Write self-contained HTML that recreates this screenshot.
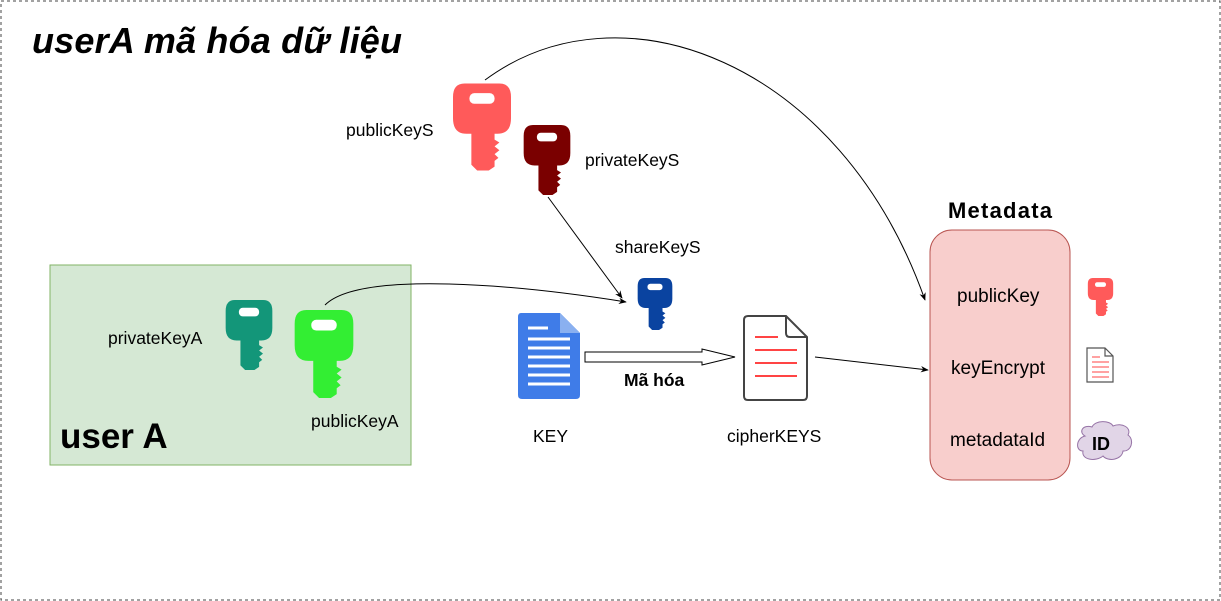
<!DOCTYPE html>
<html><head><meta charset="utf-8"><style>
body{margin:0;background:#fff;}
svg{display:block;font-family:"Liberation Sans",Arial,sans-serif;}
</style></head><body>
<svg width="1221" height="601" viewBox="0 0 1221 601">
<defs>
<symbol id="key" viewBox="0 0 60 90">
<path d="M12 0 H48 Q60 0 60 14 V36 Q60 52 46 52 H14 Q0 52 0 36 V14 Q0 0 12 0 Z M19 50 L43 50 L43 58 L48 61 L43 65 L48 69 L43 73 L47 77 L43 80 L43 86 L37 90 L25 90 L19 84 Z"/>
<rect x="17" y="10" width="26" height="11" rx="5" fill="#fff"/>
</symbol>
<symbol id="doc" viewBox="0 0 62 86">
<path d="M3 0 H42 L62 20 V82 Q62 86 58 86 H4 Q0 86 0 82 V4 Q0 0 3 0Z"/>
</symbol>
<marker id="ah" viewBox="0 0 10 10" refX="9" refY="5" markerWidth="8" markerHeight="8" orient="auto"><path d="M0 1 L10 5 L0 9 L3 5Z" fill="#000"/></marker>
</defs>
<rect x="1" y="1" width="1219" height="599" fill="#fff" stroke="#444" stroke-dasharray="3,3"/>
<text x="32" y="53" font-size="36" font-weight="bold" font-style="italic" textLength="370">userA mã hóa dữ liệu</text>

<rect x="50" y="265" width="361" height="200" fill="#D5E8D4" stroke="#82B366"/>
<text x="60" y="448" font-size="35" font-weight="bold">user A</text>
<use href="#key" x="224" y="300" width="50" height="70" fill="#139679"/>
<use href="#key" x="293" y="310" width="62" height="88" fill="#33EE33"/>
<text x="108" y="344" font-size="17.5">privateKeyA</text>
<text x="311" y="427" font-size="17.5">publicKeyA</text>

<use href="#key" x="453" y="82" width="58" height="90" fill="#FF5A5A"/>
<use href="#key" x="523" y="125" width="48" height="70" fill="#7A0000"/>
<text x="346" y="136" font-size="17.5">publicKeyS</text>
<text x="585" y="166" font-size="17.5">privateKeyS</text>
<use href="#key" x="636" y="278" width="38" height="52" fill="#0A43A0"/>
<text x="615" y="253" font-size="17.5">shareKeyS</text>

<path d="M485 80 C620 -20 840 60 925 300" fill="none" stroke="#000" marker-end="url(#ah)"/>
<path d="M325 305 C360 270 520 285 626 302" fill="none" stroke="#000" marker-end="url(#ah)"/>
<path d="M548 197 L622 298" fill="none" stroke="#000" marker-end="url(#ah)"/>
<path d="M815 357 L928 370" fill="none" stroke="#000" marker-end="url(#ah)"/>

<use href="#doc" x="518" y="313" width="62" height="86" fill="#3F7CE8"/>
<path d="M560 313 L580 333 H560Z" fill="#8AB0F0"/>
<g stroke="#fff" stroke-width="3"><line x1="528" y1="328" x2="548" y2="328"/><line x1="528" y1="339" x2="570" y2="339"/><line x1="528" y1="348" x2="570" y2="348"/><line x1="528" y1="357" x2="570" y2="357"/><line x1="528" y1="366" x2="570" y2="366"/><line x1="528" y1="375" x2="570" y2="375"/><line x1="528" y1="384" x2="570" y2="384"/></g>
<text x="533" y="442" font-size="17.5">KEY</text>

<path d="M585 352 H702 V349 L735 357 L702 365 V362 H585Z" fill="#fff" stroke="#000"/>
<text x="624" y="386" font-size="17.5" font-weight="bold">Mã hóa</text>

<path d="M748 316 H786 L807 337 V396 Q807 400 803 400 H748 Q744 400 744 396 V320 Q744 316 748 316Z M786 316 V333 Q786 337 790 337 H807" fill="#fff" stroke="#444" stroke-width="2"/>
<g stroke="#F44" stroke-width="2"><line x1="755" y1="337" x2="778" y2="337"/><line x1="755" y1="350" x2="797" y2="350"/><line x1="755" y1="363" x2="797" y2="363"/><line x1="755" y1="376" x2="797" y2="376"/></g>
<text x="727" y="442" font-size="17.5">cipherKEYS</text>

<text x="948" y="218" font-size="22" font-weight="bold" textLength="104">Metadata</text>
<rect x="930" y="230" width="140" height="250" rx="22" fill="#F8CECC" stroke="#B85450"/>
<text x="957" y="302" font-size="19">publicKey</text>
<text x="951" y="374" font-size="19">keyEncrypt</text>
<text x="950" y="446" font-size="19">metadataId</text>

<use href="#key" x="1087" y="278" width="27" height="38" fill="#FF5A5A"/>
<path d="M1089 348 H1105 L1113 356 V382 H1087 V348Z M1105 348 V356 H1113" fill="#fff" stroke="#555" stroke-width="1.2"/>
<g stroke="#F44" stroke-width="1"><line x1="1092" y1="357" x2="1100" y2="357"/><line x1="1092" y1="362" x2="1109" y2="362"/><line x1="1092" y1="367" x2="1109" y2="367"/><line x1="1092" y1="372" x2="1109" y2="372"/><line x1="1092" y1="377" x2="1109" y2="377"/></g>
<path d="M1085 436 C1078 432 1083 424 1092 427 C1095 420 1110 420 1113 426 C1122 422 1132 428 1128 435 C1135 440 1131 452 1123 451 C1122 460 1108 462 1103 456 C1096 462 1081 460 1083 451 C1075 451 1076 438 1085 436Z" fill="#E1D5E7" stroke="#9673A6"/>
<text x="1092" y="450" font-size="18" font-weight="bold">ID</text>
</svg>
</body></html>
